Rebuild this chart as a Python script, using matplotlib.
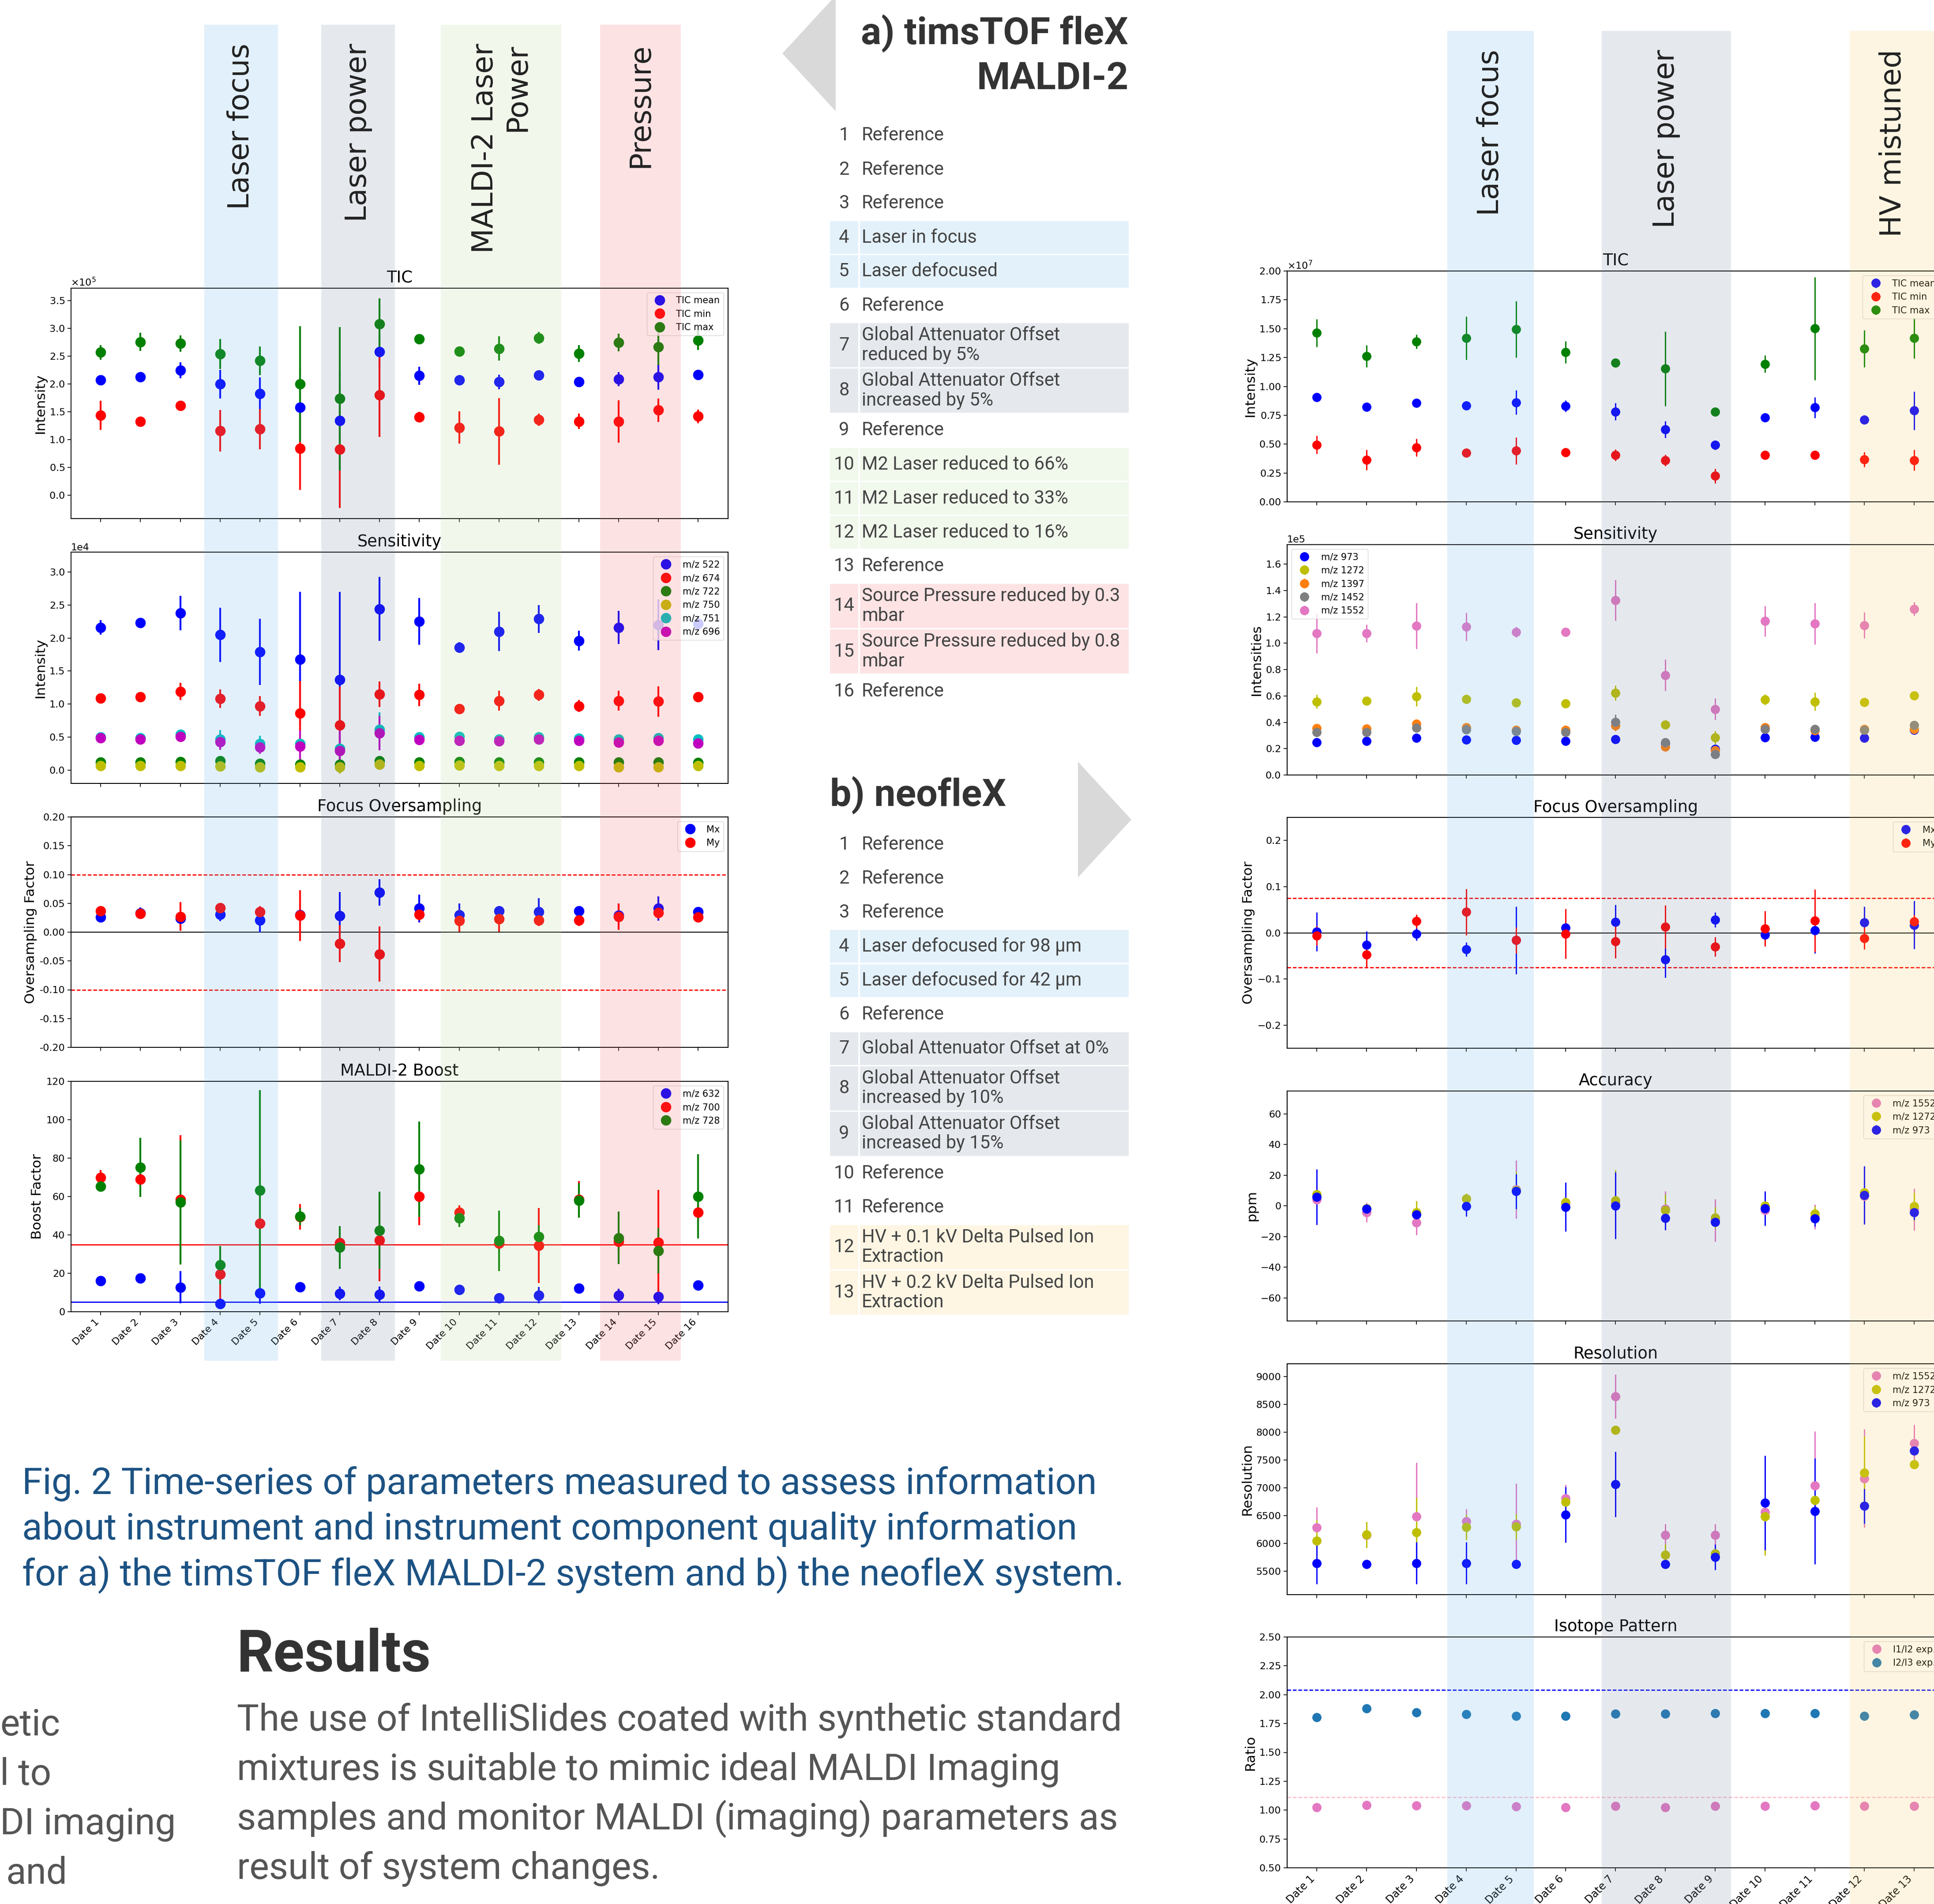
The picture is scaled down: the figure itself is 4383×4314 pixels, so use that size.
import matplotlib
matplotlib.use("Agg")
import matplotlib.pyplot as plt
from matplotlib.patches import Rectangle, Polygon
from matplotlib.transforms import blended_transform_factory
from matplotlib.ticker import MultipleLocator, ScalarFormatter

# ---------------------------------------------------------------- data (a) timsTOF fleX MALDI-2
DATES_A = ["Date 1", "Date 2", "Date 3", "Date 4", "Date 5", "Date 6", "Date 7", "Date 8",
           "Date 9", "Date 10", "Date 11", "Date 12", "Date 13", "Date 14", "Date 15", "Date 16"]

TIC_A_MEAN = [2.07, 2.13, 2.25, 2.00, 1.83, 1.58, 1.34, 2.58, 2.15, 2.07, 2.04, 2.16, 2.04, 2.09, 2.13, 2.17]
TIC_A_MEAN_ERR = [0.03, 0.04, 0.145, 0.26, 0.29, 0.7, 0.9, 0.3, 0.16, 0.03, 0.13, 0.06, 0.04, 0.125, 0.23, 0.03]
TIC_A_MIN = [1.44, 1.33, 1.61, 1.16, 1.19, 0.84, 0.83, 1.80, 1.41, 1.22, 1.15, 1.36, 1.33, 1.33, 1.53, 1.42]
TIC_A_MIN_ERR = [0.26, 0.04, 0.04, 0.375, 0.36, 0.74, 1.06, 0.75, 0.095, 0.29, 0.60, 0.11, 0.14, 0.38, 0.21, 0.125]
TIC_A_MAX = [2.57, 2.76, 2.73, 2.54, 2.42, 2.00, 1.74, 3.08, 2.81, 2.59, 2.64, 2.83, 2.55, 2.75, 2.67, 2.79]
TIC_A_MAX_ERR = [0.13, 0.165, 0.145, 0.27, 0.26, 1.04, 1.29, 0.46, 0.08, 0.09, 0.22, 0.105, 0.15, 0.16, 0.33, 0.18]

SENS_A_522 = [2.16, 2.23, 2.38, 2.05, 1.79, 1.68, 1.37, 2.44, 2.25, 1.86, 2.10, 2.29, 1.96, 2.16, 2.20, 2.22]
SENS_A_522_ERR = [0.11, 0.05, 0.26, 0.41, 0.50, 1.02, 1.33, 0.485, 0.355, 0.08, 0.295, 0.21, 0.15, 0.25, 0.385, 0.10]
SENS_A_674 = [1.09, 1.11, 1.19, 1.08, 0.97, 0.86, 0.68, 1.15, 1.14, 0.93, 1.05, 1.14, 0.97, 1.05, 1.04, 1.11]
SENS_A_674_ERR = [0.04, 0.04, 0.13, 0.14, 0.15, 0.49, 0.58, 0.195, 0.17, 0.04, 0.15, 0.09, 0.09, 0.15, 0.23, 0.04]
SENS_A_722 = [0.12, 0.12, 0.13, 0.14, 0.10, 0.09, 0.09, 0.14, 0.12, 0.13, 0.12, 0.12, 0.12, 0.12, 0.12, 0.115]
SENS_A_722_ERR = [0.03, 0.03, 0.03, 0.04, 0.03, 0.04, 0.05, 0.04, 0.03, 0.03, 0.03, 0.03, 0.03, 0.03, 0.03, 0.03]
SENS_A_750 = [0.065, 0.065, 0.065, 0.06, 0.05, 0.045, 0.045, 0.085, 0.07, 0.077, 0.065, 0.065, 0.065, 0.05, 0.05, 0.07]
SENS_A_750_ERR = [0.02, 0.02, 0.02, 0.02, 0.03, 0.04, 0.095, 0.03, 0.02, 0.02, 0.02, 0.02, 0.02, 0.02, 0.02, 0.02]
SENS_A_751 = [0.50, 0.49, 0.54, 0.47, 0.40, 0.40, 0.33, 0.615, 0.50, 0.505, 0.47, 0.50, 0.48, 0.47, 0.49, 0.47]
SENS_A_751_ERR = [0.04, 0.04, 0.05, 0.14, 0.12, 0.10, 0.20, 0.26, 0.04, 0.04, 0.04, 0.04, 0.04, 0.04, 0.04, 0.04]
SENS_A_696 = [0.49, 0.47, 0.51, 0.43, 0.35, 0.36, 0.295, 0.56, 0.46, 0.45, 0.44, 0.47, 0.45, 0.42, 0.45, 0.41]
SENS_A_696_ERR = [0.04, 0.04, 0.05, 0.12, 0.10, 0.24, 0.33, 0.26, 0.04, 0.04, 0.04, 0.04, 0.04, 0.04, 0.04, 0.04]

FOC_A_MX = [0.026, 0.033, 0.024, 0.031, 0.021, 0.030, 0.028, 0.069, 0.041, 0.030, 0.037, 0.035, 0.037, 0.029, 0.041, 0.035]
FOC_A_MX_ERR = [0.006, 0.01, 0.008, 0.012, 0.022, 0.01, 0.042, 0.023, 0.024, 0.02, 0.008, 0.024, 0.006, 0.02, 0.021, 0.006]
FOC_A_MY = [0.037, 0.032, 0.027, 0.042, 0.035, 0.029, -0.020, -0.038, 0.031, 0.020, 0.023, 0.021, 0.021, 0.027, 0.034, 0.026]
FOC_A_MY_ERR = [0.006, 0.008, 0.025, 0.006, 0.01, 0.044, 0.032, 0.048, 0.01, 0.019, 0.022, 0.01, 0.01, 0.023, 0.01, 0.006]
FOC_A_LIMIT = 0.10

BOOST_632 = [16.1, 17.4, 12.7, 4.2, 9.7, 12.9, 9.5, 9.0, 13.4, 11.6, 7.2, 8.6, 12.1, 8.4, 7.9, 13.7]
BOOST_632_ERR = [1.5, 1.5, 8.4, 2.8, 5.5, 1.5, 3.6, 4.0, 2.5, 1.5, 2.0, 4.2, 2.5, 3.5, 4.1, 2.0]
BOOST_700 = [69.8, 68.9, 58.5, 19.6, 45.9, 49.4, 35.9, 37.2, 59.9, 51.7, 35.6, 34.5, 58.5, 36.6, 36.1, 51.7]
BOOST_700_ERR = [4.1, 3.0, 33.5, 14.0, 30.0, 6.7, 5.0, 21.4, 14.8, 3.7, 5.0, 19.5, 9.5, 5.0, 27.4, 5.0]
BOOST_728 = [65.2, 75.1, 57.0, 24.3, 63.3, 49.6, 33.5, 42.4, 74.3, 48.7, 36.9, 39.0, 58.0, 38.5, 31.8, 60.1]
BOOST_728_ERR = [2.0, 15.4, 32.3, 10.0, 52.0, 4.5, 11.1, 20.1, 24.8, 4.5, 15.8, 6.0, 9.0, 13.7, 11.9, 21.9]
BOOST_RED_LIMIT = 35
BOOST_BLUE_LIMIT = 5

# ---------------------------------------------------------------- data (b) neofleX
DATES_B = ["Date 1", "Date 2", "Date 3", "Date 4", "Date 5", "Date 6", "Date 7", "Date 8",
           "Date 9", "Date 10", "Date 11", "Date 12", "Date 13"]

TIC_B_MEAN = [0.908, 0.824, 0.858, 0.832, 0.862, 0.829, 0.782, 0.628, 0.492, 0.731, 0.817, 0.711, 0.791]
TIC_B_MEAN_ERR = [0.02, 0.02, 0.02, 0.03, 0.104, 0.05, 0.073, 0.073, 0.04, 0.02, 0.091, 0.02, 0.166]
TIC_B_MIN = [0.495, 0.363, 0.469, 0.424, 0.442, 0.427, 0.405, 0.359, 0.224, 0.405, 0.405, 0.368, 0.360]
TIC_B_MIN_ERR = [0.077, 0.088, 0.077, 0.03, 0.116, 0.02, 0.05, 0.05, 0.064, 0.02, 0.02, 0.065, 0.09]
TIC_B_MAX = [1.463, 1.263, 1.389, 1.419, 1.495, 1.297, 1.206, 1.153, 0.782, 1.195, 1.501, 1.328, 1.419]
TIC_B_MAX_ERR = [0.119, 0.096, 0.061, 0.189, 0.246, 0.096, 0.02, 0.323, 0.02, 0.076, 0.446, 0.161, 0.175]

SENS_B_973 = [0.249, 0.258, 0.282, 0.268, 0.266, 0.258, 0.271, 0.24, 0.196, 0.284, 0.288, 0.282, 0.34]
SENS_B_973_ERR = [0.01, 0.01, 0.01, 0.01, 0.01, 0.01, 0.01, 0.01, 0.01, 0.01, 0.01, 0.01, 0.01]
SENS_B_1272 = [0.557, 0.562, 0.596, 0.575, 0.549, 0.543, 0.623, 0.381, 0.286, 0.573, 0.557, 0.553, 0.603]
SENS_B_1272_ERR = [0.052, 0.015, 0.073, 0.015, 0.015, 0.015, 0.058, 0.03, 0.05, 0.04, 0.069, 0.015, 0.015]
SENS_B_1397 = [0.354, 0.352, 0.390, 0.361, 0.341, 0.341, 0.374, 0.216, 0.189, 0.361, 0.337, 0.350, 0.348]
SENS_B_1397_ERR = [0.015, 0.015, 0.015, 0.015, 0.015, 0.015, 0.04, 0.015, 0.015, 0.015, 0.015, 0.015, 0.015]
SENS_B_1452 = [0.325, 0.325, 0.358, 0.345, 0.332, 0.325, 0.403, 0.249, 0.156, 0.350, 0.350, 0.341, 0.378]
SENS_B_1452_ERR = [0.015, 0.015, 0.015, 0.015, 0.015, 0.015, 0.055, 0.015, 0.015, 0.015, 0.03, 0.015, 0.015]
SENS_B_1552 = [1.075, 1.075, 1.132, 1.125, 1.084, 1.086, 1.326, 0.758, 0.500, 1.168, 1.148, 1.137, 1.260]
SENS_B_1552_ERR = [0.15, 0.068, 0.174, 0.108, 0.04, 0.015, 0.154, 0.118, 0.083, 0.116, 0.157, 0.099, 0.052]

FOC_B_MX = [0.002, -0.026, -0.002, -0.036, -0.016, 0.011, 0.023, -0.058, 0.028, -0.004, 0.005, 0.022, 0.017]
FOC_B_MX_ERR = [0.042, 0.029, 0.015, 0.015, 0.073, 0.015, 0.038, 0.039, 0.016, 0.02, 0.049, 0.035, 0.052]
FOC_B_MY = [-0.006, -0.047, 0.025, 0.045, -0.016, -0.002, -0.019, 0.013, -0.030, 0.009, 0.026, -0.012, 0.024]
FOC_B_MY_ERR = [0.021, 0.027, 0.015, 0.05, 0.028, 0.054, 0.036, 0.047, 0.021, 0.038, 0.068, 0.024, 0.015]
FOC_B_LIMIT = 0.075

ACC_1552 = [4.2, -4.3, -10.9, 4.8, 10.7, 1.4, 1.9, -2.0, -9.4, -2.9, -7.1, 6.5, -2.3]
ACC_1552_ERR = [5, 6.4, 8, 3, 19.1, 3, 5, 11.5, 13.7, 3, 8, 3, 13.6]
ACC_1272 = [7.6, -1.5, -4.3, 4.8, 10.2, 2.5, 3.6, -2.9, -7.7, 0.2, -5.2, 8.7, -0.3]
ACC_1272_ERR = [2, 2, 7.5, 3.4, 12, 5, 19.7, 10.5, 7, 2, 5, 3, 9]
ACC_973 = [5.9, -1.8, -5.8, -0.3, 9.5, -0.7, 0.2, -8.1, -10.5, -1.7, -8.3, 7.0, -4.1]
ACC_973_ERR = [18.1, 2, 3.5, 6.4, 11.3, 16, 21.7, 7.5, 2.5, 11.3, 5, 19, 5]

RES_1552 = [6285, 6150, 6489, 6401, 6348, 6815, 8645, 6150, 6150, 6567, 7044, 7170, 7807]
RES_1552_ERR = [368, 100, 964, 220, 730, 240, 395, 205, 205, 150, 973, 885, 327]
RES_1272 = [6049, 6159, 6203, 6297, 6307, 6746, 8040, 5795, 5820, 6486, 6784, 7274, 7421]
RES_1272_ERR = [376, 232, 622, 228, 230, 100, 40, 200, 100, 700, 300, 660, 60]
RES_973 = [5648, 5626, 5648, 5648, 5626, 6520, 7066, 5626, 5757, 6730, 6580, 6674, 7672]
RES_973_ERR = [377, 40, 377, 377, 40, 500, 589, 40, 230, 848, 950, 313, 60]

ISO_I1I2 = [1.025, 1.042, 1.039, 1.039, 1.030, 1.025, 1.034, 1.025, 1.035, 1.035, 1.039, 1.034, 1.034]
ISO_I1I2_ERR = [0.005, 0.005, 0.005, 0.005, 0.005, 0.005, 0.005, 0.005, 0.005, 0.005, 0.005, 0.005, 0.005]
ISO_I2I3 = [1.805, 1.879, 1.846, 1.832, 1.814, 1.814, 1.835, 1.835, 1.840, 1.838, 1.840, 1.814, 1.827]
ISO_I2I3_ERR = [0.005, 0.005, 0.005, 0.005, 0.005, 0.005, 0.005, 0.005, 0.005, 0.005, 0.03, 0.005, 0.005]
ISO_I1I2_EXPECTED = 1.112
ISO_I2I3_EXPECTED = 2.043

# ---------------------------------------------------------------- bands / tables / text
BANDS_A = [(3.60, 5.45), (6.54, 8.39), (9.54, 12.56), (13.54, 15.56)]
BAND_A_LABELS = ["Laser focus", "Laser power", "MALDI-2 Laser\nPower", "Pressure"]
BAND_A_KEYS = ["focus", "power", "m2", "pressure"]
BANDS_B = [(3.62, 5.36), (6.72, 9.32), (11.70, 13.45)]
BAND_B_LABELS = ["Laser focus", "Laser power", "HV mistuned"]
BAND_B_KEYS = ["focus", "power", "hv"]

TABLE_A_ROWS = ["Reference", "Reference", "Reference", "Laser in focus", "Laser defocused", "Reference",
                "Global Attenuator Offset\nreduced by 5%", "Global Attenuator Offset\nincreased by 5%",
                "Reference", "M2 Laser reduced to 66%", "M2 Laser reduced to 33%", "M2 Laser reduced to 16%",
                "Reference", "Source Pressure reduced by 0.3\nmbar", "Source Pressure reduced by 0.8\nmbar",
                "Reference"]
TABLE_A_GROUPS = [None, None, None, "focus", "focus", None, "power", "power", None, "m2", "m2", "m2",
                  None, "pressure", "pressure", None]
TABLE_B_ROWS = ["Reference", "Reference", "Reference", "Laser defocused for 98 µm", "Laser defocused for 42 µm",
                "Reference", "Global Attenuator Offset at 0%", "Global Attenuator Offset\nincreased by 10%",
                "Global Attenuator Offset\nincreased by 15%", "Reference", "Reference",
                "HV + 0.1 kV Delta Pulsed Ion\nExtraction", "HV + 0.2 kV Delta Pulsed Ion\nExtraction"]
TABLE_B_GROUPS = [None, None, None, "focus", "focus", None, "power", "power", "power", None, None, "hv", "hv"]

CAPTION_LINES = ["Fig. 2 Time-series of parameters measured to assess information",
                 "about instrument and instrument component quality information",
                 "for a) the timsTOF fleX MALDI-2 system and b) the neofleX system."]
BODY_LINES = ["The use of IntelliSlides coated with synthetic standard",
              "mixtures is suitable to mimic ideal MALDI Imaging",
              "samples and monitor MALDI (imaging) parameters as",
              "result of system changes."]
CUT_LINES = ["etic", "l to", "DI imaging", "and"]

# ---------------------------------------------------------------- styling
CELL_COLORS = {"focus": "#e3f1fb", "power": "#e5e9ee", "m2": "#f1f8ec", "pressure": "#fde3e4", "hv": "#fef6e3"}
BAND_OVERLAY = {"focus": "#63b1e9", "power": "#6f85a1", "m2": "#b7d89b", "pressure": "#f46369", "hv": "#f9cd63"}
BAND_ALPHA = 0.18

W, H = 4383, 4314
DPI = 100
plt.rcParams['font.family'] = ['DejaVu Sans']
fig = plt.figure(figsize=(W / DPI, H / DPI), dpi=DPI, facecolor='white')

ROBOTO = ['Roboto', 'DejaVu Sans']


def fxy(x, y):
    return x / W, 1 - y / H


def make_ax(x0, x1, top, bot):
    return fig.add_axes([x0 / W, 1 - bot / H, (x1 - x0) / W, (bot - top) / H])


def base(ax, title, ylabel, n, xlim, labels=None, xfs=16):
    ax.set_facecolor('none')
    ax.set_title(title, fontsize=26.5, pad=9)
    ax.set_ylabel(ylabel, fontsize=22.5)
    ax.set_xlim(*xlim)
    ax.set_xticks(list(range(1, n + 1)))
    if labels is None:
        ax.set_xticklabels([])
    else:
        ax.set_xticklabels(labels, rotation=45, ha='right', fontsize=xfs)
    ax.tick_params(axis='y', labelsize=16)
    ax.tick_params(axis='both', length=6, width=1.2)
    for s in ax.spines.values():
        s.set_linewidth(1.5)


def series(ax, vals, errs, color, label, ms, lw, scale=1.0):
    x = list(range(1, len(vals) + 1))
    ax.errorbar(x, [v * scale for v in vals], yerr=[e * scale for e in errs], fmt='o', color=color,
                ms=ms, elinewidth=lw, capsize=0, label=label)


def sci(ax, math):
    f = ScalarFormatter(useMathText=math)
    f.set_powerlimits((0, 0))
    ax.yaxis.set_major_formatter(f)
    ax.yaxis.get_offset_text().set_fontsize(16)


def legend(ax, loc='upper right'):
    ax.legend(loc=loc, fontsize=15, numpoints=1)


DASH = (0, (3, 1.5))

# ---------------------------------------------------------------- left column (a)
LX0, LX1 = 160.5, 1650.2
XL_A = (0.25, 16.75)
NA = len(DATES_A)
MS_A, LW_A = 16, 3

ax = make_ax(LX0, LX1, 652.5, 1175)
base(ax, "TIC", "Intensity", NA, XL_A)
series(ax, TIC_A_MEAN, TIC_A_MEAN_ERR, 'b', 'TIC mean', MS_A, LW_A, 1e5)
series(ax, TIC_A_MIN, TIC_A_MIN_ERR, 'r', 'TIC min', MS_A, LW_A, 1e5)
series(ax, TIC_A_MAX, TIC_A_MAX_ERR, 'g', 'TIC max', MS_A, LW_A, 1e5)
ax.yaxis.set_major_locator(MultipleLocator(0.5e5))
sci(ax, True)
legend(ax)
ax_ref_a = ax

ax = make_ax(LX0, LX1, 1251, 1775)
base(ax, "Sensitivity", "Intensity", NA, XL_A)
series(ax, SENS_A_522, SENS_A_522_ERR, 'b', 'm/z 522', MS_A, LW_A, 1e4)
series(ax, SENS_A_674, SENS_A_674_ERR, 'r', 'm/z 674', MS_A, LW_A, 1e4)
series(ax, SENS_A_722, SENS_A_722_ERR, 'g', 'm/z 722', MS_A, LW_A, 1e4)
series(ax, SENS_A_750, SENS_A_750_ERR, 'y', 'm/z 750', MS_A, LW_A, 1e4)
series(ax, SENS_A_751, SENS_A_751_ERR, 'c', 'm/z 751', MS_A, LW_A, 1e4)
series(ax, SENS_A_696, SENS_A_696_ERR, 'm', 'm/z 696', MS_A, LW_A, 1e4)
ax.set_ylim(-0.2e4, 3.3e4)
ax.yaxis.set_major_locator(MultipleLocator(0.5e4))
sci(ax, False)
legend(ax)

ax = make_ax(LX0, LX1, 1851, 2373)
base(ax, "Focus Oversampling", "Oversampling Factor", NA, XL_A)
ax.axhline(0, color='k', lw=1.5)
ax.axhline(FOC_A_LIMIT, color='r', ls=DASH, lw=2)
ax.axhline(-FOC_A_LIMIT, color='r', ls=DASH, lw=2)
series(ax, FOC_A_MX, FOC_A_MX_ERR, 'b', 'Mx', MS_A, LW_A)
series(ax, FOC_A_MY, FOC_A_MY_ERR, 'r', 'My', MS_A, LW_A)
ax.set_ylim(-0.2, 0.2)
ax.yaxis.set_major_locator(MultipleLocator(0.05))
ax.yaxis.set_major_formatter(plt.FormatStrFormatter('%.2f'))
legend(ax)

ax = make_ax(LX0, LX1, 2450, 2972)
base(ax, "MALDI-2 Boost", "Boost Factor", NA, XL_A, DATES_A, 16)
ax.axhline(BOOST_RED_LIMIT, color='r', lw=2)
ax.axhline(BOOST_BLUE_LIMIT, color='b', lw=2)
series(ax, BOOST_632, BOOST_632_ERR, 'b', 'm/z 632', MS_A, LW_A)
series(ax, BOOST_700, BOOST_700_ERR, 'r', 'm/z 700', MS_A, LW_A)
series(ax, BOOST_728, BOOST_728_ERR, 'g', 'm/z 728', MS_A, LW_A)
ax.set_ylim(0, 120)
ax.yaxis.set_major_locator(MultipleLocator(20))
legend(ax)

# ---------------------------------------------------------------- right column (b)
RX0, RX1 = 2916.6, 4405.9
XL_B = (0.4, 13.6)
NB = len(DATES_B)
MS_B, LW_B = 14, 2.2

ax = make_ax(RX0, RX1, 614, 1137)
base(ax, "TIC", "Intensity", NB, XL_B)
series(ax, TIC_B_MEAN, TIC_B_MEAN_ERR, 'b', 'TIC mean', MS_B, LW_B, 1e7)
series(ax, TIC_B_MIN, TIC_B_MIN_ERR, 'r', 'TIC min', MS_B, LW_B, 1e7)
series(ax, TIC_B_MAX, TIC_B_MAX_ERR, 'g', 'TIC max', MS_B, LW_B, 1e7)
ax.set_ylim(0, 2.0e7)
ax.yaxis.set_major_locator(MultipleLocator(0.25e7))
sci(ax, True)
legend(ax)
ax_ref_b = ax

ax = make_ax(RX0, RX1, 1233.5, 1756)
base(ax, "Sensitivity", "Intensities", NB, XL_B)
series(ax, SENS_B_973, SENS_B_973_ERR, 'b', 'm/z 973', MS_B, LW_B, 1e5)
series(ax, SENS_B_1272, SENS_B_1272_ERR, 'y', 'm/z 1272', MS_B, LW_B, 1e5)
series(ax, SENS_B_1397, SENS_B_1397_ERR, 'tab:orange', 'm/z 1397', MS_B, LW_B, 1e5)
series(ax, SENS_B_1452, SENS_B_1452_ERR, 'tab:gray', 'm/z 1452', MS_B, LW_B, 1e5)
series(ax, SENS_B_1552, SENS_B_1552_ERR, 'tab:pink', 'm/z 1552', MS_B, LW_B, 1e5)
ax.set_ylim(0, 1.75e5)
ax.yaxis.set_major_locator(MultipleLocator(0.2e5))
sci(ax, False)
legend(ax, 'upper left')

ax = make_ax(RX0, RX1, 1852, 2375)
base(ax, "Focus Oversampling", "Oversampling Factor", NB, XL_B)
ax.axhline(0, color='k', lw=1.5)
ax.axhline(FOC_B_LIMIT, color='r', ls=DASH, lw=2)
ax.axhline(-FOC_B_LIMIT, color='r', ls=DASH, lw=2)
series(ax, FOC_B_MX, FOC_B_MX_ERR, 'b', 'Mx', MS_B, LW_B)
series(ax, FOC_B_MY, FOC_B_MY_ERR, 'r', 'My', MS_B, LW_B)
ax.set_ylim(-0.25, 0.25)
ax.yaxis.set_major_locator(MultipleLocator(0.1))
legend(ax)

ax = make_ax(RX0, RX1, 2471.6, 2993)
base(ax, "Accuracy", "ppm", NB, XL_B)
series(ax, ACC_1552, ACC_1552_ERR, 'tab:pink', 'm/z 1552', MS_B, LW_B)
series(ax, ACC_1272, ACC_1272_ERR, 'y', 'm/z 1272', MS_B, LW_B)
series(ax, ACC_973, ACC_973_ERR, 'b', 'm/z 973', MS_B, LW_B)
ax.set_ylim(-75, 75)
ax.yaxis.set_major_locator(MultipleLocator(20))
legend(ax)

ax = make_ax(RX0, RX1, 3090, 3613)
base(ax, "Resolution", "Resolution", NB, XL_B)
series(ax, RES_1552, RES_1552_ERR, 'tab:pink', 'm/z 1552', MS_B, LW_B)
series(ax, RES_1272, RES_1272_ERR, 'y', 'm/z 1272', MS_B, LW_B)
series(ax, RES_973, RES_973_ERR, 'b', 'm/z 973', MS_B, LW_B)
ax.set_ylim(5082, 9232)
ax.yaxis.set_major_locator(MultipleLocator(500))
legend(ax)

ax = make_ax(RX0, RX1, 3709, 4232)
base(ax, "Isotope Pattern", "Ratio", NB, XL_B, DATES_B, 17)
ax.axhline(ISO_I2I3_EXPECTED, color='b', ls=DASH, lw=2)
ax.axhline(ISO_I1I2_EXPECTED, color='pink', ls=DASH, lw=2)
series(ax, ISO_I1I2, ISO_I1I2_ERR, 'tab:pink', 'I1/I2 exp.', MS_B, LW_B)
series(ax, ISO_I2I3, ISO_I2I3_ERR, 'tab:blue', 'I2/I3 exp.', MS_B, LW_B)
ax.set_ylim(0.5, 2.5)
ax.yaxis.set_major_locator(MultipleLocator(0.25))
ax.yaxis.set_major_formatter(plt.FormatStrFormatter('%.2f'))
legend(ax)


# ---------------------------------------------------------------- bands over the charts
def draw_bands(ref_ax, bands, keys, labels, ytop, ybot, ylab):
    tr = blended_transform_factory(ref_ax.transData, fig.transFigure)
    for (a, b), k, lab in zip(bands, keys, labels):
        fig.add_artist(Rectangle((a, 1 - ybot / H), b - a, (ybot - ytop) / H, transform=tr,
                                 facecolor=BAND_OVERLAY[k], edgecolor='none', alpha=BAND_ALPHA, zorder=10))
        fig.text((a + b) / 2, 1 - ylab / H, lab, transform=tr, rotation=90, ha='center', va='top',
                 multialignment='right', fontsize=47.5, color='#222222', linespacing=1.2, zorder=11)


draw_bands(ax_ref_a, BANDS_A, BAND_A_KEYS, BAND_A_LABELS, 56, 3083, 98)
draw_bands(ax_ref_b, BANDS_B, BAND_B_KEYS, BAND_B_LABELS, 70, 4330, 112)


# ---------------------------------------------------------------- tables
def rect_px(x0, y0, x1, y1, color, z=1):
    fig.add_artist(Rectangle((x0 / W, 1 - y1 / H), (x1 - x0) / W, (y1 - y0) / H, transform=fig.transFigure,
                             facecolor=color, edgecolor='none', zorder=z))


def draw_table(rows, groups, top):
    y = top
    for i, (txt, g) in enumerate(zip(rows, groups)):
        h = 103 if '\n' in txt else 77
        if g:
            rect_px(1881, y + 1.5, 1945, y + h - 1.5, CELL_COLORS[g])
            rect_px(1949, y + 1.5, 2558, y + h - 1.5, CELL_COLORS[g])
        yc = y + h / 2
        fig.text(1913 / W, 1 - yc / H, str(i + 1), ha='center', va='center', fontsize=30,
                 family=ROBOTO, fontweight='normal', color='#444444', zorder=3)
        fig.text(1953 / W, 1 - yc / H, txt, ha='left', va='center', fontsize=30, linespacing=1.12,
                 family=ROBOTO, fontweight='normal', color='#444444', zorder=3)
        y += h


draw_table(TABLE_A_ROWS, TABLE_A_GROUPS, 268.5)
draw_table(TABLE_B_ROWS, TABLE_B_GROUPS, 1875)

fig.add_artist(Polygon([fxy(1773, 121), fxy(1894, -10), fxy(1894, 252)], closed=True,
                       transform=fig.transFigure, facecolor='#d9d9d9', edgecolor='none'))
fig.add_artist(Polygon([fxy(2443, 1726), fxy(2564, 1857), fxy(2443, 1988)], closed=True,
                       transform=fig.transFigure, facecolor='#d9d9d9', edgecolor='none'))

fig.text(*fxy(2557, 100), "a) timsTOF fleX", ha='right', va='baseline', fontsize=62,
         family=ROBOTO, fontweight='bold', color='#333333')
fig.text(*fxy(2557, 202), "MALDI-2", ha='right', va='baseline', fontsize=62,
         family=ROBOTO, fontweight='bold', color='#333333')
fig.text(*fxy(1881, 1826), "b) neofleX", ha='left', va='baseline', fontsize=62,
         family=ROBOTO, fontweight='bold', color='#333333')

# ---------------------------------------------------------------- caption and body text
for i, line in enumerate(CAPTION_LINES):
    fig.text(*fxy(50, 3385 + 103.5 * i), line, ha='left', va='baseline', fontsize=60.4,
             family=ROBOTO, fontweight='normal', color='#1c5283')

fig.text(*fxy(537, 3787), "Results", ha='left', va='baseline', fontsize=94,
         family=ROBOTO, fontweight='bold', color='#333333')

for i, line in enumerate(BODY_LINES):
    fig.text(*fxy(537, 3921 + 112 * i), line, ha='left', va='baseline', fontsize=60.3,
             family=ROBOTO, fontweight='normal', color='#555555')

for i, line in enumerate(CUT_LINES):
    fig.text(*fxy(14 if i == 3 else 0, 3932 + 112 * i), line, ha='left', va='baseline', fontsize=60.3,
             family=ROBOTO, fontweight='normal', color='#555555')

fig.savefig("out.png", dpi=DPI, facecolor='white')
